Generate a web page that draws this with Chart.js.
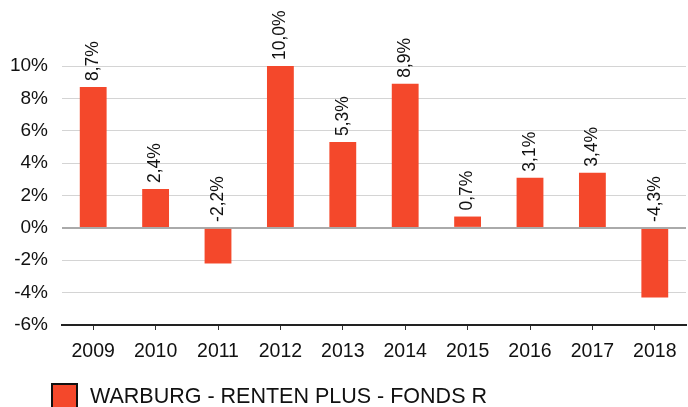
<!DOCTYPE html>
<html>
<head>
<meta charset="utf-8">
<script src="https://cdn.jsdelivr.net/npm/chart.js@4/dist/chart.umd.min.js"></script>
<style>
  body { margin: 0; background: #fff; }
  #wrap { width: 688px; height: 407px; }
</style>
</head>
<body>
<div id="wrap"><canvas id="chart"></canvas></div>
<script>
const years = ['2009', '2010', '2011', '2012', '2013', '2014', '2015', '2016', '2017', '2018'];
const returns = [8.7, 2.4, -2.2, 10.0, 5.3, 8.9, 0.7, 3.1, 3.4, -4.3];
const yTicks = [-6, -4, -2, 0, 2, 4, 6, 8, 10];
const seriesName = 'WARBURG - RENTEN PLUS - FONDS R';

const barColor = '#F4482B';
const fontFamily = 'Arial, "Liberation Sans", sans-serif';

function fmt(v) {
    return v.toFixed(1).replace('.', ',') + '%';
}

// rotated value labels, always above the bar top or the zero line
const valueLabels = {
    id: 'valueLabels',
    afterDatasetsDraw(chart) {
        const ctx = chart.ctx;
        const meta = chart.getDatasetMeta(0);
        const y = chart.scales.y;
        ctx.save();
        ctx.font = '17.5px ' + fontFamily;
        ctx.fillStyle = '#111';
        ctx.textAlign = 'left';
        ctx.textBaseline = 'middle';
        meta.data.forEach((bar, i) => {
            const v = returns[i];
            const top = y.getPixelForValue(Math.max(v, 0));
            ctx.save();
            ctx.translate(bar.x, top - 6);
            ctx.rotate(-Math.PI / 2);
            ctx.fillText(fmt(v), 0, 0);
            ctx.restore();
        });
        ctx.restore();
    }
};

// legend drawn by hand at the bottom left
const bottomLegend = {
    id: 'bottomLegend',
    afterDraw(chart) {
        const ctx = chart.ctx;
        ctx.save();
        ctx.fillStyle = barColor;
        ctx.fillRect(52, 384, 25, 25);
        ctx.strokeStyle = '#111';
        ctx.lineWidth = 2;
        ctx.strokeRect(52, 384, 25, 25);
        ctx.fillStyle = '#111';
        ctx.font = '21.5px ' + fontFamily;
        ctx.textBaseline = 'middle';
        ctx.fillText(chart.data.datasets[0].label, 90, 397);
        ctx.restore();
    }
};

new Chart(document.getElementById('chart'), {
    type: 'bar',
    data: {
        labels: years,
        datasets: [{
            label: seriesName,
            data: returns,
            backgroundColor: barColor,
            borderWidth: 0,
            barPercentage: 0.43,
            categoryPercentage: 1
        }]
    },
    options: {
        responsive: true,
        maintainAspectRatio: false,
        animation: false,
        layout: { padding: { top: 66, right: 2, bottom: 37, left: 0 } },
        plugins: {
            legend: { display: false },
            tooltip: { enabled: false }
        },
        scales: {
            x: {
                afterFit(scale) { scale.height = 45; },
                grid: {
                    drawOnChartArea: false,
                    drawTicks: true,
                    tickLength: 5,
                    offset: false,
                    color: '#333'
                },
                border: { color: '#222', width: 2 },
                ticks: {
                    padding: 10,
                    color: '#111',
                    font: { family: fontFamily, size: 19.5 }
                }
            },
            y: {
                min: -6,
                max: 10,
                afterFit(scale) { scale.width = 62; },
                afterBuildTicks(scale) {
                    scale.ticks = yTicks.map(v => ({ value: v }));
                },
                grid: {
                    drawTicks: false,
                    tickLength: 0,
                    color: ctx => ctx.tick && ctx.tick.value === 0 ? '#aaa' : '#d4d4d4',
                    lineWidth: ctx => ctx.tick && ctx.tick.value === 0 ? 2 : 1
                },
                border: { display: false },
                ticks: {
                    padding: 14,
                    color: '#111',
                    font: { family: fontFamily, size: 19 },
                    callback: v => v + '%'
                }
            }
        }
    },
    plugins: [valueLabels, bottomLegend]
});
</script>
</body>
</html>
